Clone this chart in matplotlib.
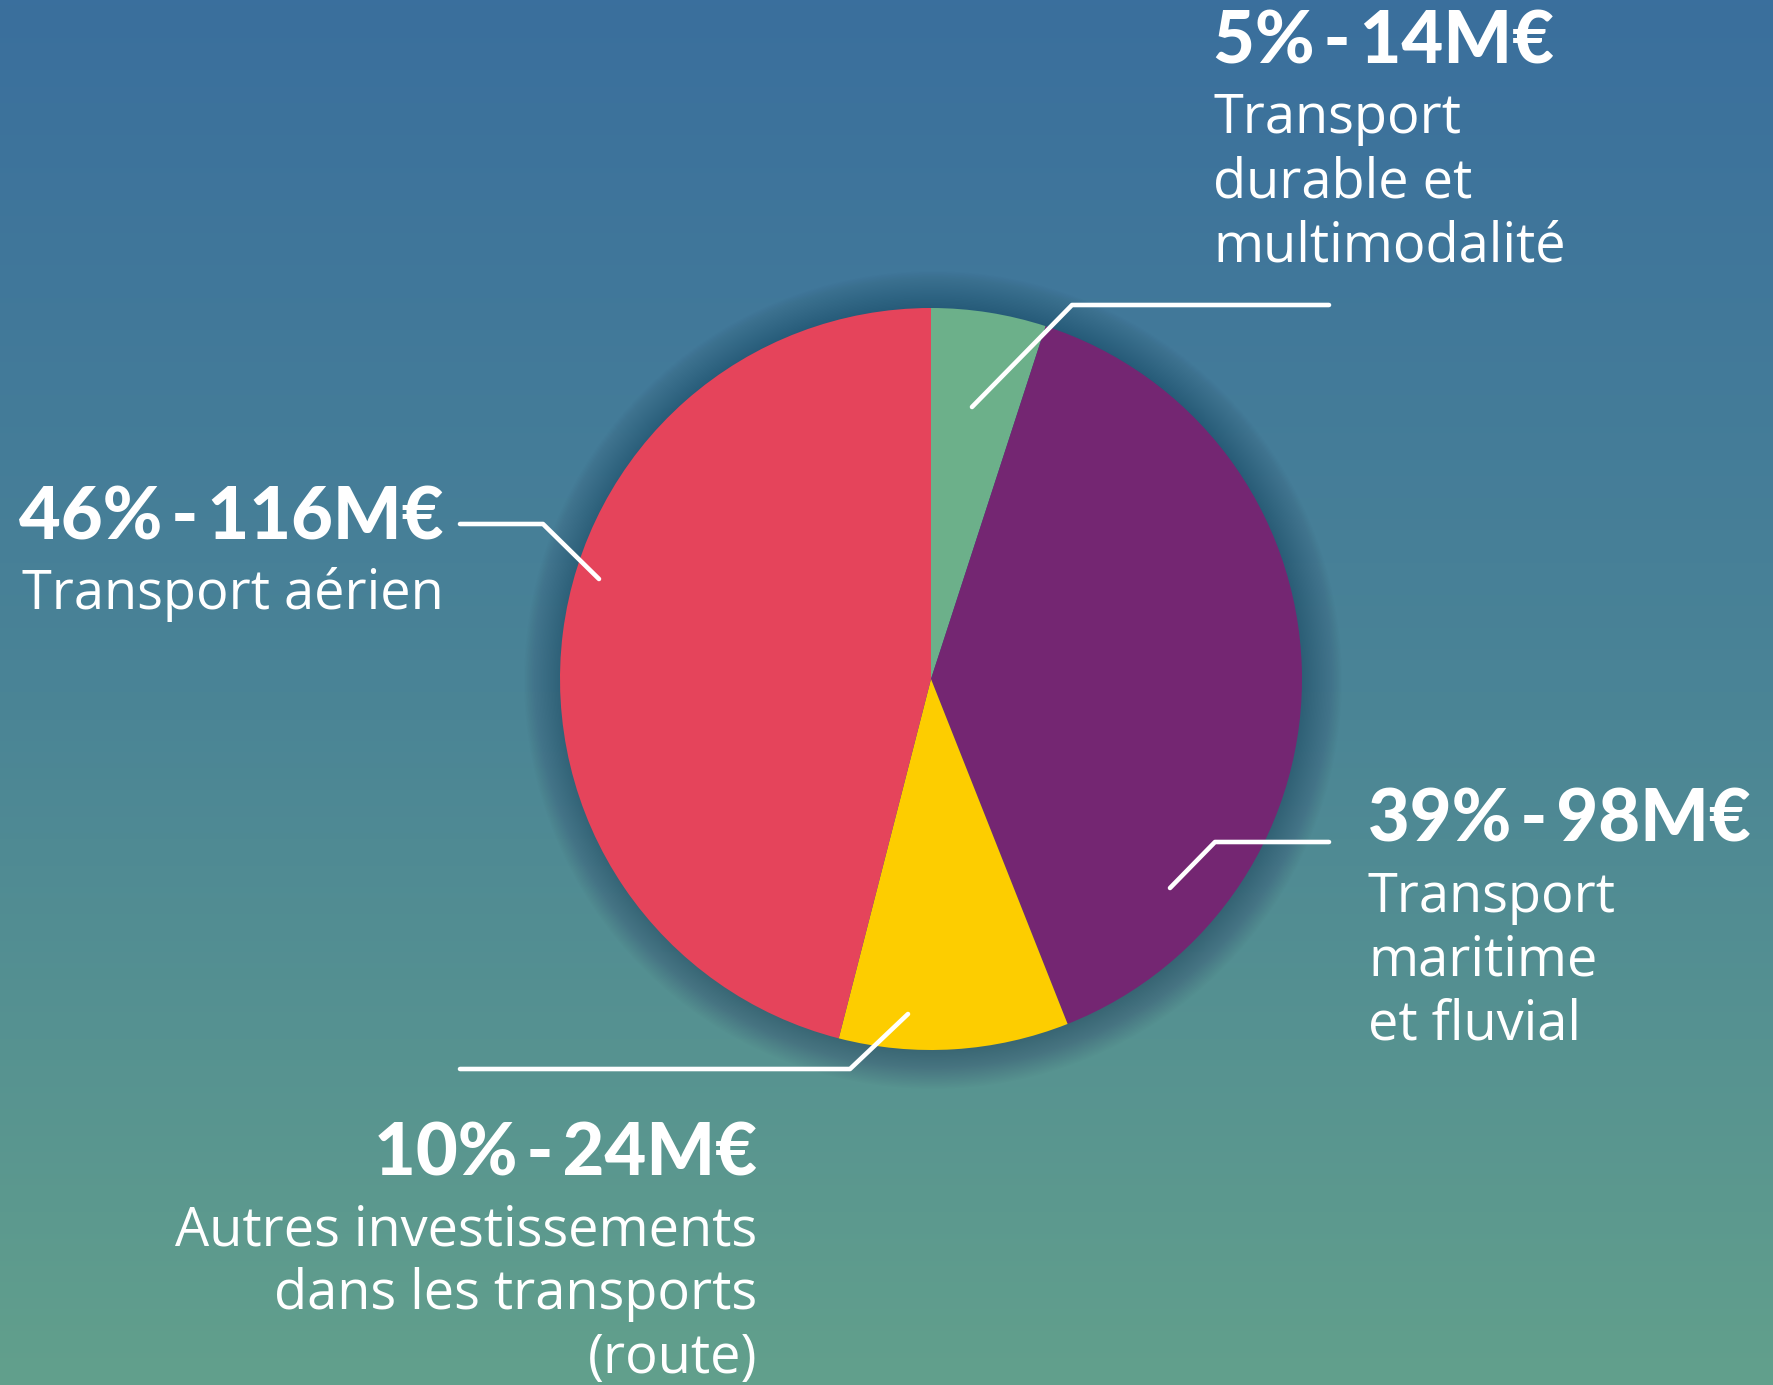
import numpy as np
import matplotlib.pyplot as plt
from matplotlib.colors import LinearSegmentedColormap
from matplotlib.patches import Circle

# données
categories = ['Transport durable et multimodalité', 'Transport maritime et fluvial',
              'Autres investissements dans les transports (route)', 'Transport aérien']
parts = [5, 39, 10, 46]          # en %
montants = [14, 98, 24, 116]     # en M€
couleurs = ['#6cb08a', '#742672', '#fdcd00', '#e5445b']

W, H = 1773, 1385
fig = plt.figure(figsize=(W / 100, H / 100), dpi=100)
ax = fig.add_axes([0, 0, 1, 1])

# fond en dégradé bleu -> vert
cmap = LinearSegmentedColormap.from_list('fond', ['#3a6f9d', '#4a8496', '#62a08c'])
grad = np.linspace(0, 1, 256).reshape(-1, 1)
ax.imshow(grad, cmap=cmap, extent=(0, W, H, 0), aspect='auto', zorder=0)

cx, cy, r = 931, 679, 371

# ombre douce autour du camembert
for k in range(28):
    ax.add_patch(Circle((cx + 2, cy + 1), r + k * 1.4, color='#1c3550',
                        alpha=0.014, lw=0, zorder=1))

# axe y inversé : startangle=-90 + counterclock=True => départ en haut, sens horaire
ax.pie(parts, colors=couleurs, startangle=-90, counterclock=True,
       center=(cx, cy), radius=r, wedgeprops=dict(linewidth=0), frame=True)
ax.set_xlim(0, W)
ax.set_ylim(H, 0)
ax.set_aspect('equal')
ax.axis('off')

# traits de rappel
traits = [
    [(972, 407), (1072, 305), (1329, 305)],
    [(1170, 888), (1215, 842), (1329, 842)],
    [(908, 1014), (850, 1069), (460, 1069)],
    [(599, 579), (543, 524), (460, 524)],
]
for t in traits:
    xs, ys = zip(*t)
    ax.plot(xs, ys, color='white', lw=3.3, solid_capstyle='round', zorder=5)

gras = dict(color='white', fontsize=52, fontweight='black', family=['Lato', 'DejaVu Sans'],
            va='baseline', zorder=6)
norm = dict(color='white', fontsize=39, family=['Open Sans', 'DejaVu Sans'],
            va='baseline', zorder=6)

# étiquettes : (x, alignement, ligne de base du titre, lignes de texte, bases)
etiquettes = [
    (1213, 'left', 64, ['Transport', 'durable et', 'multimodalité'], [133, 198, 262]),
    (1368, 'left', 842, ['Transport', 'maritime', 'et fluvial'], [912, 976, 1040]),
    (757, 'right', 1176, ['Autres investissements', 'dans les transports', '(route)'], [1246, 1309, 1373]),
    (444, 'right', 540, ['Transport aérien'], [609]),
]
for (x, ha, yb, lignes, bases), p, m in zip(etiquettes, parts, montants):
    ax.text(x, yb, f'{p}%\u2009-\u2009{m}M€', ha=ha, **gras)
    for l, b in zip(lignes, bases):
        ax.text(x, b, l, ha=ha, **norm)

fig.savefig('out.png', dpi=100)
